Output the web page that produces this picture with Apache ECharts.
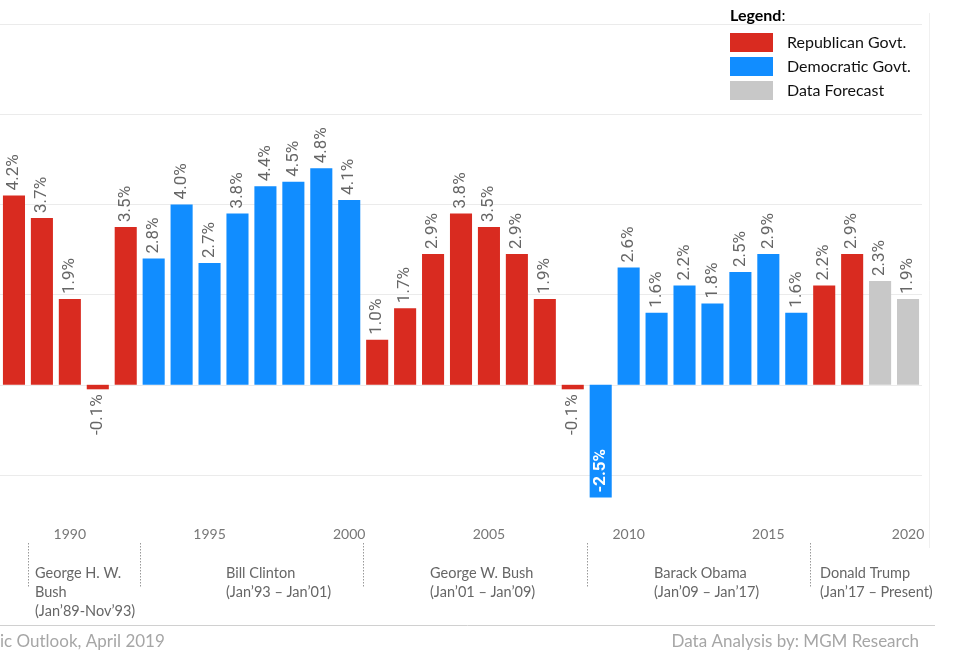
<!DOCTYPE html>
<html><head><meta charset="utf-8">
<script src="https://cdn.jsdelivr.net/npm/echarts@6/dist/echarts.min.js"></script>
<style>html,body{margin:0;padding:0;background:#fff}#c{width:955px;height:663px}</style>
</head><body><div id="c"></div>
<script>
// ---- data ----
const years = ['1988','1989','1990','1991','1992','1993','1994','1995','1996','1997','1998','1999','2000',
  '2001','2002','2003','2004','2005','2006','2007','2008','2009','2010','2011','2012','2013','2014','2015',
  '2016','2017','2018','2019','2020'];
const growth = [4.2,3.7,1.9,-0.1,3.5,2.8,4.0,2.7,3.8,4.4,4.5,4.8,4.1,1.0,1.7,2.9,3.8,3.5,2.9,1.9,-0.1,-2.5,
  2.6,1.6,2.2,1.8,2.5,2.9,1.6,2.2,2.9,2.3,1.9];
const govt = ['R','R','R','R','R','D','D','D','D','D','D','D','D','R','R','R','R','R','R','R','R',
  'D','D','D','D','D','D','D','D','R','R','F','F'];
const govtKeys = ['R','D','F'];
const govtNames = ['Republican Govt.','Democratic Govt.','Data Forecast'];
const yearTicks = ['1990','1995','2000','2005','2010','2015','2020'];
const presStart = ['1989','1993','2001','2009','2017'];
const presNames = [['George H. W.','Bush','(Jan’89-Nov’93)'],['Bill Clinton','(Jan’93 – Jan’01)'],
  ['George W. Bush','(Jan’01 – Jan’09)'],['Barack Obama','(Jan’09 – Jan’17)'],['Donald Trump','(Jan’17 – Present)']];
const sourceText = 'ic Outlook, April 2019';
const creditText = 'Data Analysis by: MGM Research';

// ---- styles ----
const colors = {R:'#D92B20', D:'#118DFF', F:'#C8C8C8'};
const presX = [35, 226, 430, 654, 820];
const FONT = 'Lato';

const chart = echarts.init(document.getElementById('c'), null, {renderer:'canvas'});

function itemData(key){
  return growth.map((v,i)=>{
    if (govt[i] !== key) return '-';
    if (v < -1) return {value:v, label:{position:'insideBottom', align:'left', color:'#fff', fontWeight:'bold', distance:5}};
    if (v < 0) return {value:v, label:{position:'bottom', align:'right'}};
    return v;
  });
}

const series = govtKeys.map((k,idx)=>({
  name: govtNames[idx],
  type:'bar',
  stack:'g',
  clip:false,
  barWidth:'79%',
  itemStyle:{color:colors[k]},
  data:itemData(k),
  label:{
    show:true, position:'top', rotate:90, align:'left', verticalAlign:'middle', distance:5,
    color:'#666', fontSize:17, fontFamily:'Roboto',
    formatter:p=>p.value.toFixed(1)+'%'
  }
}));

chart.setOption({
  animation:false,
  backgroundColor:'#fff',
  grid:{left:0, right:33, top:24, bottom:663-475, containLabel:false},
  legend:{
    left:730, top:33, orient:'vertical', itemWidth:43, itemHeight:19, itemGap:5, padding:0,
    selectedMode:false, icon:'rect',
    textStyle:{fontSize:16, color:'#111', fontFamily:FONT, padding:[0,0,0,9]},
    data:govtNames
  },
  xAxis:{
    type:'category', data:years,
    axisLine:{show:false, onZero:false}, axisTick:{show:false},
    axisLabel:{
      margin:52, color:'#777', fontSize:14, fontFamily:FONT,
      interval:(i,v)=>yearTicks.indexOf(v)>=0
    }
  },
  yAxis:{
    type:'value', min:-2, max:8, interval:2,
    axisLabel:{show:false}, axisLine:{show:false}, axisTick:{show:false},
    splitLine:{lineStyle:{color:'#ebebeb', width:1}}
  },
  series:series
});

// annotations
const c0 = chart.convertToPixel({xAxisIndex:0}, years[0]);
const c1 = chart.convertToPixel({xAxisIndex:0}, years[1]);
const bw = c1 - c0;
const g = [];
presStart.forEach(y=>{
  const x = Math.round(chart.convertToPixel({xAxisIndex:0}, y) - bw/2) + 0.5;
  g.push({type:'line', shape:{x1:x, y1:543, x2:x, y2:587}, style:{stroke:'#999', lineWidth:1, lineDash:[1.5,1.5]}});
});
presNames.forEach((lines,i)=>{
  lines.forEach((t,j)=>{
    g.push({type:'text', left:presX[i], top:566+j*19,
      style:{text:t, fill:'#666', fontSize:14.5, fontFamily:FONT}});
  });
});
g.push({type:'text', left:730, top:8, style:{
  text:'{b|Legend}:', rich:{b:{fontWeight:'bold', fontSize:16, fill:'#000', fontFamily:FONT}},
  fill:'#000', fontSize:16, fontFamily:FONT}});
g.push({type:'line', shape:{x1:0, y1:625.5, x2:935, y2:625.5}, style:{stroke:'#d0d0d0', lineWidth:1}});
g.push({type:'line', shape:{x1:929.5, y1:13, x2:929.5, y2:548}, style:{stroke:'#f0f0f0', lineWidth:1}});
g.push({type:'text', left:0, top:633, style:{text:sourceText, fill:'#a6a6a6', fontSize:17, fontFamily:FONT}});
g.push({type:'text', right:955-919, top:633, style:{text:creditText, fill:'#a6a6a6', fontSize:17, fontFamily:FONT}});
chart.setOption({graphic:g});
</script></body></html>
